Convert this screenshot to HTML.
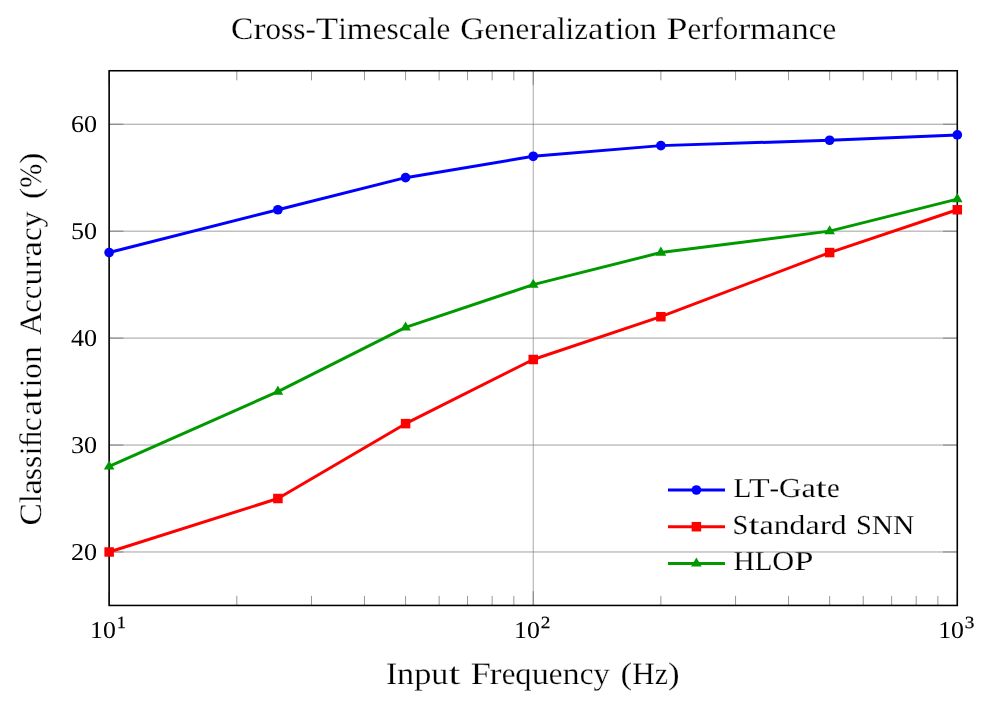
<!DOCTYPE html>
<html><head><meta charset="utf-8"><title>Cross-Timescale Generalization Performance</title>
<style>html,body{margin:0;padding:0;background:#fff;}svg{display:block;will-change:transform;}text{font-family:"Liberation Serif",serif;fill:#000;text-rendering:geometricPrecision;}text.b{stroke:#fff;stroke-width:0.25px;}text.l{stroke:#fff;stroke-width:0.15px;}text.s{stroke:#000;stroke-width:0.25px;}</style></head><body>
<svg width="995" height="709" viewBox="0 0 995 709">
<rect x="0" y="0" width="995" height="709" fill="#ffffff"/>
<path d="M109.15 551.98 H957.30 M109.15 445.04 H957.30 M109.15 338.10 H957.30 M109.15 231.16 H957.30 M109.15 124.22 H957.30" stroke="#808080" stroke-width="0.75" fill="none"/>
<path d="M109.15 70.75 V605.45 M533.23 70.75 V605.45 M957.30 70.75 V605.45" stroke="#808080" stroke-width="0.68" fill="none"/>
<path d="M236.81 605.45 v-9.6 M236.81 70.75 v9.6 M311.49 605.45 v-9.6 M311.49 70.75 v9.6 M364.47 605.45 v-9.6 M364.47 70.75 v9.6 M405.57 605.45 v-9.6 M405.57 70.75 v9.6 M439.14 605.45 v-9.6 M439.14 70.75 v9.6 M467.53 605.45 v-9.6 M467.53 70.75 v9.6 M492.13 605.45 v-9.6 M492.13 70.75 v9.6 M513.82 605.45 v-9.6 M513.82 70.75 v9.6 M660.88 605.45 v-9.6 M660.88 70.75 v9.6 M735.56 605.45 v-9.6 M735.56 70.75 v9.6 M788.54 605.45 v-9.6 M788.54 70.75 v9.6 M829.64 605.45 v-9.6 M829.64 70.75 v9.6 M863.22 605.45 v-9.6 M863.22 70.75 v9.6 M891.61 605.45 v-9.6 M891.61 70.75 v9.6 M916.20 605.45 v-9.6 M916.20 70.75 v9.6 M937.90 605.45 v-9.6 M937.90 70.75 v9.6" stroke="#606060" stroke-width="0.65" fill="none"/>
<path d="M109.15 605.45 v-14.3 M109.15 70.75 v14.3 M533.23 605.45 v-14.3 M533.23 70.75 v14.3 M957.30 605.45 v-14.3 M957.30 70.75 v14.3 M109.15 551.98 h14.3 M957.30 551.98 h-14.3 M109.15 445.04 h14.3 M957.30 445.04 h-14.3 M109.15 338.10 h14.3 M957.30 338.10 h-14.3 M109.15 231.16 h14.3 M957.30 231.16 h-14.3 M109.15 124.22 h14.3 M957.30 124.22 h-14.3" stroke="#606060" stroke-width="0.65" fill="none"/>
<rect x="109.15" y="70.75" width="848.15" height="534.70" fill="none" stroke="#000" stroke-width="1.55"/>
<polyline points="109.15,252.55 277.91,209.77 405.57,177.69 533.23,156.30 660.88,145.61 829.64,140.26 957.30,134.91" fill="none" stroke="#0000ff" stroke-width="2.95" stroke-linejoin="round"/>
<circle cx="109.15" cy="252.55" r="4.85" fill="#0000ff"/>
<circle cx="277.91" cy="209.77" r="4.85" fill="#0000ff"/>
<circle cx="405.57" cy="177.69" r="4.85" fill="#0000ff"/>
<circle cx="533.23" cy="156.30" r="4.85" fill="#0000ff"/>
<circle cx="660.88" cy="145.61" r="4.85" fill="#0000ff"/>
<circle cx="829.64" cy="140.26" r="4.85" fill="#0000ff"/>
<circle cx="957.30" cy="134.91" r="4.85" fill="#0000ff"/>
<polyline points="109.15,551.98 277.91,498.51 405.57,423.65 533.23,359.49 660.88,316.71 829.64,252.55 957.30,209.77" fill="none" stroke="#ff0000" stroke-width="2.95" stroke-linejoin="round"/>
<rect x="104.40" y="547.23" width="9.5" height="9.5" fill="#ff0000"/>
<rect x="273.16" y="493.76" width="9.5" height="9.5" fill="#ff0000"/>
<rect x="400.82" y="418.90" width="9.5" height="9.5" fill="#ff0000"/>
<rect x="528.48" y="354.74" width="9.5" height="9.5" fill="#ff0000"/>
<rect x="656.13" y="311.96" width="9.5" height="9.5" fill="#ff0000"/>
<rect x="824.89" y="247.80" width="9.5" height="9.5" fill="#ff0000"/>
<rect x="952.55" y="205.02" width="9.5" height="9.5" fill="#ff0000"/>
<polyline points="109.15,466.43 277.91,391.57 405.57,327.41 533.23,284.63 660.88,252.55 829.64,231.16 957.30,199.08" fill="none" stroke="#009900" stroke-width="2.95" stroke-linejoin="round"/>
<path d="M109.15 460.43 L114.45 469.53 L103.85 469.53 Z" fill="#009900"/>
<path d="M277.91 385.57 L283.21 394.67 L272.61 394.67 Z" fill="#009900"/>
<path d="M405.57 321.41 L410.87 330.51 L400.27 330.51 Z" fill="#009900"/>
<path d="M533.23 278.63 L538.52 287.73 L527.93 287.73 Z" fill="#009900"/>
<path d="M660.88 246.55 L666.18 255.65 L655.58 255.65 Z" fill="#009900"/>
<path d="M829.64 225.16 L834.94 234.26 L824.34 234.26 Z" fill="#009900"/>
<path d="M957.30 193.08 L962.60 202.18 L952.00 202.18 Z" fill="#009900"/>
<path d="M668.0 490.0 H725.0" stroke="#0000ff" stroke-width="2.95"/>
<circle cx="696.40" cy="490.00" r="4.85" fill="#0000ff"/>
<text class="l" x="733.40" y="496.90" font-size="27.4" textLength="17.88" lengthAdjust="spacingAndGlyphs">L</text><text class="l" x="748.90" y="496.90" font-size="27.4" textLength="20.66" lengthAdjust="spacingAndGlyphs">T</text><text class="l" x="769.56" y="496.90" font-size="27.4" textLength="9.54" lengthAdjust="spacingAndGlyphs">-</text><text class="l" x="779.10" y="496.90" font-size="27.4" textLength="22.45" lengthAdjust="spacingAndGlyphs">G</text><text class="l" x="801.55" y="496.90" font-size="27.4" textLength="14.31" lengthAdjust="spacingAndGlyphs">a</text><text class="l" x="815.86" y="496.90" font-size="27.4" textLength="11.13" lengthAdjust="spacingAndGlyphs">t</text><text class="l" x="826.98" y="496.90" font-size="27.4" textLength="12.72" lengthAdjust="spacingAndGlyphs">e</text>
<path d="M668.0 526.7 H725.0" stroke="#ff0000" stroke-width="2.95"/>
<rect x="691.65" y="521.95" width="9.5" height="9.5" fill="#ff0000"/>
<text class="l" x="732.60" y="533.70" font-size="27.4" textLength="15.84" lengthAdjust="spacingAndGlyphs">S</text><text class="l" x="748.44" y="533.70" font-size="27.4" textLength="11.09" lengthAdjust="spacingAndGlyphs">t</text><text class="l" x="759.52" y="533.70" font-size="27.4" textLength="14.25" lengthAdjust="spacingAndGlyphs">a</text><text class="l" x="773.77" y="533.70" font-size="27.4" textLength="15.84" lengthAdjust="spacingAndGlyphs">n</text><text class="l" x="789.61" y="533.70" font-size="27.4" textLength="15.84" lengthAdjust="spacingAndGlyphs">d</text><text class="l" x="805.45" y="533.70" font-size="27.4" textLength="14.25" lengthAdjust="spacingAndGlyphs">a</text><text class="l" x="819.70" y="533.70" font-size="27.4" textLength="11.16" lengthAdjust="spacingAndGlyphs">r</text><text class="l" x="830.86" y="533.70" font-size="27.4" textLength="15.84" lengthAdjust="spacingAndGlyphs">d</text>
<text class="l" x="855.90" y="533.70" font-size="27.4" textLength="15.81" lengthAdjust="spacingAndGlyphs">S</text><text class="l" x="871.71" y="533.70" font-size="27.4" textLength="21.34" lengthAdjust="spacingAndGlyphs">N</text><text class="l" x="893.06" y="533.70" font-size="27.4" textLength="21.34" lengthAdjust="spacingAndGlyphs">N</text>
<path d="M668.0 563.4 H725.0" stroke="#009900" stroke-width="2.95"/>
<path d="M696.40 557.40 L701.70 566.50 L691.10 566.50 Z" fill="#009900"/>
<text class="l" x="733.50" y="570.00" font-size="27.4" textLength="21.15" lengthAdjust="spacingAndGlyphs">H</text><text class="l" x="754.65" y="570.00" font-size="27.4" textLength="17.62" lengthAdjust="spacingAndGlyphs">L</text><text class="l" x="772.27" y="570.00" font-size="27.4" textLength="21.93" lengthAdjust="spacingAndGlyphs">O</text><text class="l" x="794.21" y="570.00" font-size="27.4" textLength="19.19" lengthAdjust="spacingAndGlyphs">P</text>
<text class="b" x="231.00" y="38.90" font-size="31.2" textLength="22.40" lengthAdjust="spacingAndGlyphs">C</text><text class="b" x="253.40" y="38.90" font-size="31.2" textLength="12.15" lengthAdjust="spacingAndGlyphs">r</text><text class="b" x="265.54" y="38.90" font-size="31.2" textLength="15.51" lengthAdjust="spacingAndGlyphs">o</text><text class="b" x="281.05" y="38.90" font-size="31.2" textLength="12.23" lengthAdjust="spacingAndGlyphs">s</text><text class="b" x="293.28" y="38.90" font-size="31.2" textLength="12.23" lengthAdjust="spacingAndGlyphs">s</text><text class="b" x="305.51" y="38.90" font-size="31.2" textLength="10.34" lengthAdjust="spacingAndGlyphs">-</text><text class="b" x="315.85" y="38.90" font-size="31.2" textLength="22.40" lengthAdjust="spacingAndGlyphs">T</text><text class="b" x="338.25" y="38.90" font-size="31.2" textLength="8.62" lengthAdjust="spacingAndGlyphs">i</text><text class="b" x="346.86" y="38.90" font-size="31.2" textLength="25.84" lengthAdjust="spacingAndGlyphs">m</text><text class="b" x="372.70" y="38.90" font-size="31.2" textLength="13.78" lengthAdjust="spacingAndGlyphs">e</text><text class="b" x="386.48" y="38.90" font-size="31.2" textLength="12.23" lengthAdjust="spacingAndGlyphs">s</text><text class="b" x="398.72" y="38.90" font-size="31.2" textLength="13.78" lengthAdjust="spacingAndGlyphs">c</text><text class="b" x="412.50" y="38.90" font-size="31.2" textLength="15.51" lengthAdjust="spacingAndGlyphs">a</text><text class="b" x="428.00" y="38.90" font-size="31.2" textLength="8.62" lengthAdjust="spacingAndGlyphs">l</text><text class="b" x="436.62" y="38.90" font-size="31.2" textLength="13.78" lengthAdjust="spacingAndGlyphs">e</text>
<text class="b" x="460.30" y="38.90" font-size="31.2" textLength="24.31" lengthAdjust="spacingAndGlyphs">G</text><text class="b" x="484.61" y="38.90" font-size="31.2" textLength="13.77" lengthAdjust="spacingAndGlyphs">e</text><text class="b" x="498.38" y="38.90" font-size="31.2" textLength="17.21" lengthAdjust="spacingAndGlyphs">n</text><text class="b" x="515.59" y="38.90" font-size="31.2" textLength="13.77" lengthAdjust="spacingAndGlyphs">e</text><text class="b" x="529.35" y="38.90" font-size="31.2" textLength="12.13" lengthAdjust="spacingAndGlyphs">r</text><text class="b" x="541.49" y="38.90" font-size="31.2" textLength="15.49" lengthAdjust="spacingAndGlyphs">a</text><text class="b" x="556.98" y="38.90" font-size="31.2" textLength="8.61" lengthAdjust="spacingAndGlyphs">l</text><text class="b" x="565.58" y="38.90" font-size="31.2" textLength="8.61" lengthAdjust="spacingAndGlyphs">i</text><text class="b" x="574.19" y="38.90" font-size="31.2" textLength="13.77" lengthAdjust="spacingAndGlyphs">z</text><text class="b" x="587.96" y="38.90" font-size="31.2" textLength="15.49" lengthAdjust="spacingAndGlyphs">a</text><text class="b" x="603.45" y="38.90" font-size="31.2" textLength="12.05" lengthAdjust="spacingAndGlyphs">t</text><text class="b" x="615.49" y="38.90" font-size="31.2" textLength="8.61" lengthAdjust="spacingAndGlyphs">i</text><text class="b" x="624.10" y="38.90" font-size="31.2" textLength="15.49" lengthAdjust="spacingAndGlyphs">o</text><text class="b" x="639.59" y="38.90" font-size="31.2" textLength="17.21" lengthAdjust="spacingAndGlyphs">n</text>
<text class="b" x="666.50" y="38.90" font-size="31.2" textLength="21.03" lengthAdjust="spacingAndGlyphs">P</text><text class="b" x="687.53" y="38.90" font-size="31.2" textLength="13.73" lengthAdjust="spacingAndGlyphs">e</text><text class="b" x="701.26" y="38.90" font-size="31.2" textLength="12.10" lengthAdjust="spacingAndGlyphs">r</text><text class="b" x="713.37" y="38.90" font-size="31.2" textLength="9.44" lengthAdjust="spacingAndGlyphs">f</text><text class="b" x="722.81" y="38.90" font-size="31.2" textLength="15.45" lengthAdjust="spacingAndGlyphs">o</text><text class="b" x="738.26" y="38.90" font-size="31.2" textLength="12.10" lengthAdjust="spacingAndGlyphs">r</text><text class="b" x="750.37" y="38.90" font-size="31.2" textLength="25.75" lengthAdjust="spacingAndGlyphs">m</text><text class="b" x="776.12" y="38.90" font-size="31.2" textLength="15.45" lengthAdjust="spacingAndGlyphs">a</text><text class="b" x="791.57" y="38.90" font-size="31.2" textLength="17.17" lengthAdjust="spacingAndGlyphs">n</text><text class="b" x="808.74" y="38.90" font-size="31.2" textLength="13.73" lengthAdjust="spacingAndGlyphs">c</text><text class="b" x="822.47" y="38.90" font-size="31.2" textLength="13.73" lengthAdjust="spacingAndGlyphs">e</text>
<text class="b" x="386.00" y="683.50" font-size="31.2" textLength="11.13" lengthAdjust="spacingAndGlyphs">I</text><text class="b" x="397.13" y="683.50" font-size="31.2" textLength="17.13" lengthAdjust="spacingAndGlyphs">n</text><text class="b" x="414.26" y="683.50" font-size="31.2" textLength="17.13" lengthAdjust="spacingAndGlyphs">p</text><text class="b" x="431.38" y="683.50" font-size="31.2" textLength="17.13" lengthAdjust="spacingAndGlyphs">u</text><text class="b" x="448.51" y="683.50" font-size="31.2" textLength="11.99" lengthAdjust="spacingAndGlyphs">t</text>
<text class="b" x="470.80" y="683.50" font-size="31.2" textLength="20.15" lengthAdjust="spacingAndGlyphs">F</text><text class="b" x="489.56" y="683.50" font-size="31.2" textLength="12.09" lengthAdjust="spacingAndGlyphs">r</text><text class="b" x="501.65" y="683.50" font-size="31.2" textLength="13.72" lengthAdjust="spacingAndGlyphs">e</text><text class="b" x="515.37" y="683.50" font-size="31.2" textLength="16.29" lengthAdjust="spacingAndGlyphs">q</text><text class="b" x="531.67" y="683.50" font-size="31.2" textLength="17.15" lengthAdjust="spacingAndGlyphs">u</text><text class="b" x="548.82" y="683.50" font-size="31.2" textLength="13.72" lengthAdjust="spacingAndGlyphs">e</text><text class="b" x="562.54" y="683.50" font-size="31.2" textLength="17.15" lengthAdjust="spacingAndGlyphs">n</text><text class="b" x="579.69" y="683.50" font-size="31.2" textLength="13.72" lengthAdjust="spacingAndGlyphs">c</text><text class="b" x="593.41" y="683.50" font-size="31.2" textLength="16.29" lengthAdjust="spacingAndGlyphs">y</text>
<text class="b" x="620.60" y="683.50" font-size="31.2" textLength="11.63" lengthAdjust="spacingAndGlyphs">(</text><text class="b" x="632.23" y="683.50" font-size="31.2" textLength="22.44" lengthAdjust="spacingAndGlyphs">H</text><text class="b" x="654.67" y="683.50" font-size="31.2" textLength="13.29" lengthAdjust="spacingAndGlyphs">z</text><text class="b" x="667.97" y="683.50" font-size="31.2" textLength="11.63" lengthAdjust="spacingAndGlyphs">)</text>
<g transform="translate(41,0) rotate(-90)">
<text class="b" x="-525.50" y="0.00" font-size="31.2" textLength="22.39" lengthAdjust="spacingAndGlyphs">C</text><text class="b" x="-503.11" y="0.00" font-size="31.2" textLength="8.61" lengthAdjust="spacingAndGlyphs">l</text><text class="b" x="-494.49" y="0.00" font-size="31.2" textLength="15.50" lengthAdjust="spacingAndGlyphs">a</text><text class="b" x="-480.29" y="0.00" font-size="31.2" textLength="12.23" lengthAdjust="spacingAndGlyphs">s</text><text class="b" x="-468.06" y="0.00" font-size="31.2" textLength="12.23" lengthAdjust="spacingAndGlyphs">s</text><text class="b" x="-455.23" y="0.00" font-size="31.2" textLength="8.61" lengthAdjust="spacingAndGlyphs">i</text><text class="b" x="-447.22" y="0.00" font-size="31.2" textLength="17.23" lengthAdjust="spacingAndGlyphs">&#xFB01;</text><text class="b" x="-431.19" y="0.00" font-size="31.2" textLength="13.78" lengthAdjust="spacingAndGlyphs">c</text><text class="b" x="-415.51" y="0.00" font-size="31.2" textLength="15.50" lengthAdjust="spacingAndGlyphs">a</text><text class="b" x="-400.00" y="0.00" font-size="31.2" textLength="12.06" lengthAdjust="spacingAndGlyphs">t</text><text class="b" x="-387.35" y="0.00" font-size="31.2" textLength="8.61" lengthAdjust="spacingAndGlyphs">i</text><text class="b" x="-378.73" y="0.00" font-size="31.2" textLength="15.50" lengthAdjust="spacingAndGlyphs">o</text><text class="b" x="-363.23" y="0.00" font-size="31.2" textLength="17.23" lengthAdjust="spacingAndGlyphs">n</text>
<text class="b" x="-335.00" y="0.00" font-size="31.2" textLength="23.04" lengthAdjust="spacingAndGlyphs">A</text><text class="b" x="-312.82" y="0.00" font-size="31.2" textLength="13.65" lengthAdjust="spacingAndGlyphs">c</text><text class="b" x="-299.17" y="0.00" font-size="31.2" textLength="13.65" lengthAdjust="spacingAndGlyphs">c</text><text class="b" x="-285.52" y="0.00" font-size="31.2" textLength="17.07" lengthAdjust="spacingAndGlyphs">u</text><text class="b" x="-268.45" y="0.00" font-size="31.2" textLength="12.03" lengthAdjust="spacingAndGlyphs">r</text><text class="b" x="-256.42" y="0.00" font-size="31.2" textLength="15.36" lengthAdjust="spacingAndGlyphs">a</text><text class="b" x="-241.06" y="0.00" font-size="31.2" textLength="13.65" lengthAdjust="spacingAndGlyphs">c</text><text class="b" x="-227.41" y="0.00" font-size="31.2" textLength="16.21" lengthAdjust="spacingAndGlyphs">y</text>
<text class="b" x="-198.90" y="0.00" font-size="31.2" textLength="11.20" lengthAdjust="spacingAndGlyphs">(</text><text class="b" x="-187.70" y="0.00" font-size="31.2" textLength="24.00" lengthAdjust="spacingAndGlyphs">%</text><text class="b" x="-163.70" y="0.00" font-size="31.2" textLength="11.20" lengthAdjust="spacingAndGlyphs">)</text>
</g>
<text x="71.05" y="559.98" font-size="24.2" text-anchor="start" textLength="26.1" lengthAdjust="spacingAndGlyphs">20</text>
<text x="71.05" y="453.04" font-size="24.2" text-anchor="start" textLength="26.1" lengthAdjust="spacingAndGlyphs">30</text>
<text x="71.05" y="346.10" font-size="24.2" text-anchor="start" textLength="26.1" lengthAdjust="spacingAndGlyphs">40</text>
<text x="71.05" y="239.16" font-size="24.2" text-anchor="start" textLength="26.1" lengthAdjust="spacingAndGlyphs">50</text>
<text x="71.05" y="132.22" font-size="24.2" text-anchor="start" textLength="26.1" lengthAdjust="spacingAndGlyphs">60</text>
<text x="90.05" y="638.20" font-size="24.2" text-anchor="start" textLength="25.8" lengthAdjust="spacingAndGlyphs">10</text>
<text x="116.95" y="628.10" font-size="17.1" text-anchor="start" textLength="8.7" lengthAdjust="spacingAndGlyphs" class="s">1</text>
<text x="514.12" y="638.20" font-size="24.2" text-anchor="start" textLength="25.8" lengthAdjust="spacingAndGlyphs">10</text>
<text x="540.73" y="628.10" font-size="17.1" text-anchor="start" textLength="9.6" lengthAdjust="spacingAndGlyphs" class="s">2</text>
<text x="938.20" y="638.20" font-size="24.2" text-anchor="start" textLength="25.8" lengthAdjust="spacingAndGlyphs">10</text>
<text x="964.80" y="628.10" font-size="17.1" text-anchor="start" textLength="9.6" lengthAdjust="spacingAndGlyphs" class="s">3</text>
</svg></body></html>
